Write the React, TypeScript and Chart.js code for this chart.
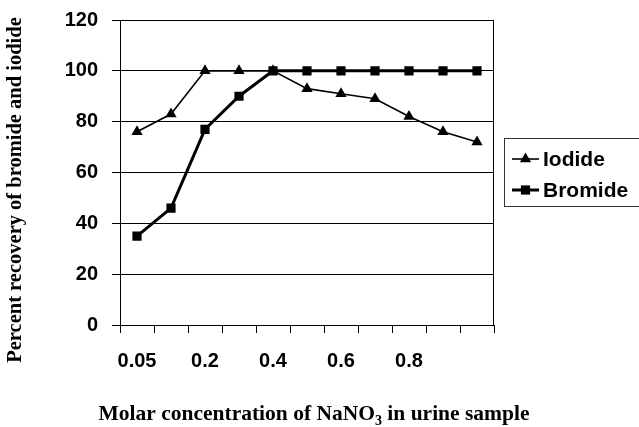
import React, { useEffect, useRef } from "react";
import { Chart, registerables } from "chart.js";

Chart.register(...registerables);

const categories = ["0.05", "0.1", "0.2", "0.3", "0.4", "0.5", "0.6", "0.7", "0.8", "0.9", "1.0"];
const tickLabels = ["0.05", "", "0.2", "", "0.4", "", "0.6", "", "0.8", "", ""];
const iodide = [76, 83, 100, 100, 100, 93, 91, 89, 82, 76, 72];
const bromide = [35, 46, 77, 90, 100, 100, 100, 100, 100, 100, 100];
const yMin = 0;
const yMax = 120;
const yStep = 20;
const seriesNames = ["Iodide", "Bromide"];
const yTitle = "Percent recovery of bromide and iodide";
const xTitleMain = "Molar concentration of NaNO";
const xTitleSub = "3";
const xTitleEnd = " in urine sample";

const SANS = "'Liberation Sans', Arial, sans-serif";
const SERIF = "'Liberation Serif', 'Times New Roman', serif";

function drawMarker(ctx: CanvasRenderingContext2D, style: string, x: number, y: number, r: number) {
  ctx.beginPath();
  if (style === "triangle") {
    for (let i = 0; i < 3; i++) {
      const a = (i * 2 * Math.PI) / 3;
      const px = x + Math.sin(a) * r;
      const py = y - Math.cos(a) * r;
      if (i === 0) ctx.moveTo(px, py);
      else ctx.lineTo(px, py);
    }
    ctx.closePath();
  } else {
    const s = r * Math.SQRT1_2;
    ctx.rect(x - s, y - s, 2 * s, 2 * s);
  }
  ctx.fill();
}

const decorPlugin = {
  id: "decor",
  afterDraw(chart: any) {
    const ctx: CanvasRenderingContext2D = chart.ctx;
    const a = chart.chartArea;
    ctx.save();
    // plot area border
    ctx.strokeStyle = "#000";
    ctx.lineWidth = 1;
    ctx.strokeRect(a.left + 0.5, a.top + 0.5, a.right - a.left - 1, a.bottom - a.top);

    // y title
    ctx.fillStyle = "#000";
    ctx.font = `bold 20.5px ${SERIF}`;
    ctx.textAlign = "center";
    ctx.textBaseline = "middle";
    ctx.translate(16, 190);
    ctx.rotate(-Math.PI / 2);
    ctx.fillText(yTitle, 0, 0);
    ctx.setTransform(1, 0, 0, 1, 0, 0);

    // x title with subscript
    ctx.textAlign = "left";
    ctx.textBaseline = "alphabetic";
    const mainFont = `bold 21.5px ${SERIF}`;
    const subFont = `bold 14px ${SERIF}`;
    ctx.font = mainFont;
    const w1 = ctx.measureText(xTitleMain).width;
    const w3 = ctx.measureText(xTitleEnd).width;
    ctx.font = subFont;
    const w2 = ctx.measureText(xTitleSub).width;
    const total = w1 + w2 + w3;
    const cx = 314;
    const baseY = 420;
    let x = cx - total / 2;
    ctx.font = mainFont;
    ctx.fillText(xTitleMain, x, baseY);
    x += w1;
    ctx.font = subFont;
    ctx.fillText(xTitleSub, x, baseY + 5);
    x += w2;
    ctx.font = mainFont;
    ctx.fillText(xTitleEnd, x, baseY);

    // legend
    const lx = 504;
    const ly = 138;
    ctx.strokeStyle = "#333";
    ctx.lineWidth = 1;
    ctx.strokeRect(lx + 0.5, ly + 0.5, 160, 68);
    const rows = [159, 190];
    chart.data.datasets.forEach((ds: any, i: number) => {
      const y = rows[i];
      ctx.strokeStyle = "#000";
      ctx.lineWidth = ds.borderWidth;
      ctx.beginPath();
      ctx.moveTo(512, y);
      ctx.lineTo(539, y);
      ctx.stroke();
      ctx.fillStyle = "#000";
      drawMarker(ctx, ds.pointStyle, 525.5, y, ds.pointRadius);
      ctx.font = `bold 21px ${SANS}`;
      ctx.textAlign = "left";
      ctx.textBaseline = "middle";
      ctx.fillText(ds.label, 543, y + 1);
    });
    ctx.restore();
  },
};

export default function App() {
  const ref = useRef<HTMLCanvasElement | null>(null);
  useEffect(() => {
    if (!ref.current) return;
    const chart = new Chart(ref.current, {
      type: "line",
      data: {
        labels: categories,
        datasets: [
          {
            label: seriesNames[0],
            data: iodide,
            borderColor: "#000",
            backgroundColor: "#000",
            borderWidth: 1.6,
            pointStyle: "triangle",
            pointRadius: 6.5,
            pointBorderWidth: 0,
            pointBackgroundColor: "#000",
            tension: 0,
          },
          {
            label: seriesNames[1],
            data: bromide,
            borderColor: "#000",
            backgroundColor: "#000",
            borderWidth: 3,
            pointStyle: "rect",
            pointRadius: 6.5,
            pointBorderWidth: 0,
            pointBackgroundColor: "#000",
            tension: 0,
          },
        ],
      },
      options: {
        responsive: false,
        animation: false,
        layout: { padding: { left: 0, right: 145, top: 20, bottom: 0 } },
        plugins: {
          legend: { display: false },
          tooltip: { enabled: false },
        },
        scales: {
          x: {
            type: "category",
            offset: true,
            afterFit: (scale: any) => {
              scale.height = 102;
              scale.paddingLeft = 0;
              scale.paddingRight = 0;
            },
            grid: {
              offset: true,
              drawOnChartArea: false,
              color: "#000",
              tickLength: 8,
              tickColor: "#000",
            },
            border: { color: "#000" },
            ticks: {
              autoSkip: false,
              maxRotation: 0,
              color: "#000",
              padding: 16,
              font: { family: SANS, size: 20, weight: "bold" },
              callback: (_v: any, i: number) => tickLabels[i],
            },
          },
          y: {
            min: yMin,
            max: yMax,
            afterFit: (scale: any) => {
              scale.width = 120;
              scale.paddingTop = 0;
              scale.paddingBottom = 0;
            },
            grid: { color: "#000", tickLength: 8, tickColor: "#000" },
            border: { color: "#000" },
            ticks: {
              stepSize: yStep,
              color: "#000",
              padding: 14,
              font: { family: SANS, size: 20, weight: "bold" },
            },
          },
        },
      },
      plugins: [decorPlugin],
    });
    return () => chart.destroy();
  }, []);
  return (
    <div style={{ position: "fixed", left: 0, top: 0, width: 639, height: 427, background: "#fff" }}>
      <canvas ref={ref} width={639} height={427} style={{ display: "block", width: 639, height: 427 }} />
    </div>
  );
}
